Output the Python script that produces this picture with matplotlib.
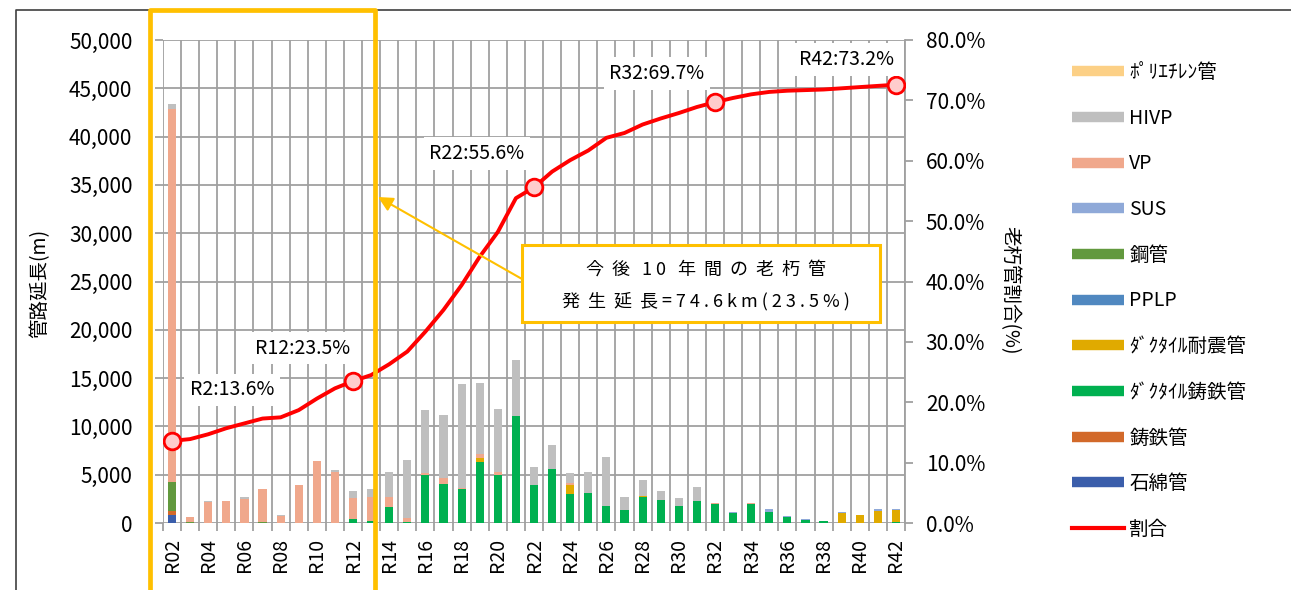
import matplotlib
matplotlib.use("Agg")
import matplotlib.pyplot as plt
import numpy as np
from matplotlib.lines import Line2D
from matplotlib.patches import Rectangle

plt.rcParams['font.family'] = ['Noto Sans CJK JP', 'DejaVu Sans']

# data (R02 .. R42)
years = ["R%02d" % i for i in range(2, 43)]

asbestos = [860] + [0] * 40                      # 石綿管
cast_iron = [415] + [0] * 40                     # 鋳鉄管
ductile = [0, 0, 0, 0, 0, 0, 0, 0, 0, 0,
           380, 170, 1690, 140, 4970, 4000, 3485, 6350, 5000, 11110,
           3970, 5590, 3035, 3070, 1790, 1380, 2690, 2430, 1760, 2245,
           1930, 1000, 1965, 1170, 590, 310, 210, 0, 0, 0, 140]   # ﾀﾞｸﾀｲﾙ鋳鉄管
seismic = [0] * 17 + [415] + [0] * 4 + [900] + [0] * 3 + [100] + [0] * 10 + [1000, 790, 1275, 1210]
pplp = [0] * 41
steel = [3000, 100, 0, 0, 0, 130] + [0] * 35     # 鋼管
sus = [0] * 31 + [140, 0, 240, 100, 100, 40, 100, 0, 140, 70]
vp = [38570, 520, 2170, 2250, 2480, 3420, 690, 3970, 6380, 5280,
      2210, 2520, 970, 345, 170, 690, 140, 380, 280, 0,
      0, 0, 210, 0, 0, 0, 0, 0, 0, 0,
      100, 0, 100, 0, 0, 0, 0, 0, 0, 0, 0]
hivp = [520, 0, 140, 0, 170, 0, 110, 0, 0, 240,
        690, 860, 2590, 6000, 6555, 6450, 10800, 7350, 6520, 5760,
        1860, 2480, 1000, 2210, 5000, 1345, 1655, 880, 860, 1485,
        0, 0, 0, 0, 0, 0, 0, 0, 0, 0, 0]
poly = [0] * 41                                  # ﾎﾟﾘｴﾁﾚﾝ管

ratio = [13.6, 13.9, 14.7, 15.7, 16.5, 17.3, 17.5, 18.7, 20.6, 22.3,
         23.5, 24.5, 26.3, 28.4, 31.7, 35.3, 39.4, 44.1, 48.2, 53.8,
         55.6, 58.2, 60.1, 61.7, 63.8, 64.6, 66.0, 67.0, 67.9, 68.9,
         69.7, 70.4, 71.0, 71.4, 71.6, 71.7, 71.8, 72.0, 72.2, 72.4, 72.6]

mark_idx = [0, 10, 20, 30, 40]
mark_labels = ["R2:13.6%", "R12:23.5%", "R22:55.6%", "R32:69.7%", "R42:73.2%"]

series = [
    ("石綿管", asbestos, "#3B5EAB"),
    ("鋳鉄管", cast_iron, "#D2692A"),
    ("ﾀﾞｸﾀｲﾙ鋳鉄管", ductile, "#00B050"),
    ("ﾀﾞｸﾀｲﾙ耐震管", seismic, "#E0AA00"),
    ("PPLP", pplp, "#5088C0"),
    ("鋼管", steel, "#62993E"),
    ("SUS", sus, "#8FA9D8"),
    ("VP", vp, "#F0A88C"),
    ("HIVP", hivp, "#BFBFBF"),
    ("ﾎﾟﾘｴﾁﾚﾝ管", poly, "#FCD086"),
]

W, H = 1291, 590
fig = plt.figure(figsize=(W / 100, H / 100), dpi=100)
ax = fig.add_axes([163 / W, 1 - 523 / H, (905 - 163) / W, (523 - 40) / H])

x = np.arange(len(years))
bottom = np.zeros(len(years))
for name, vals, col in series:
    ax.bar(x, vals, 0.45, bottom=bottom, color=col, zorder=2)
    bottom += np.array(vals)

grid_c = "#A0A0A0"
ax.set_xlim(-0.5, len(years) - 0.5)
ax.set_ylim(0, 50000)
ax.set_yticks(np.arange(0, 50001, 5000))
ax.set_yticklabels([f"{v:,}" for v in range(0, 50001, 5000)], fontsize=15)
ax.set_xticks(x[::2])
ax.set_xticklabels(years[::2], rotation=90, fontsize=14)
ax.set_xticks(np.arange(-0.5, len(years)), minor=True)
ax.tick_params(axis='x', which='major', length=0, pad=11)
ax.tick_params(axis='x', which='minor', length=6, color=grid_c, width=1.3)
ax.tick_params(axis='y', length=6, color=grid_c, width=1.3, pad=16)
ax.grid(axis='y', which='major', color=grid_c, lw=1.3, zorder=0)
ax.grid(axis='x', which='minor', color=grid_c, lw=1.3, zorder=0)
ax.set_axisbelow(True)
for s in ax.spines.values():
    s.set_visible(False)

ax2 = ax.twinx()
ax2.plot(x, ratio, color="red", lw=2.8, zorder=5)
ax2.plot(x[mark_idx], np.array(ratio)[mark_idx], 'o', ms=12, mfc="#FFCCCC",
         mec="red", mew=2, zorder=6)
ax2.set_ylim(0, 80)
ax2.set_yticks(np.arange(0, 81, 10))
ax2.set_yticklabels([f"{v:.1f}%" for v in range(0, 81, 10)], fontsize=15)
ax2.tick_params(axis='y', length=6, color=grid_c, width=1.3, pad=9)
for s in ax2.spines.values():
    s.set_visible(False)
ax2.spines['right'].set_visible(True)
ax2.spines['right'].set_color(grid_c)
ax2.spines['right'].set_linewidth(1.3)

offsets = [(60, 51), (-50, 33), (-57, 34), (-58, 29), (-49, 25)]
for i, lab, off in zip(mark_idx, mark_labels, offsets):
    ax2.annotate(lab, (x[i], ratio[i]), xytext=off, textcoords='offset pixels',
                 ha='center', va='center', fontsize=14, zorder=7,
                 bbox=dict(boxstyle='square,pad=0.3', fc='white', ec='none'))

fig.text(40 / W, 1 - 283 / H, "管路延長(m)", rotation=90, ha='center', va='center', fontsize=14)
fig.text(1010 / W, 1 - 290 / H, "老朽管割合(%)", rotation=270, ha='center', va='center', fontsize=14)

# outer chart frame
fig.add_artist(Line2D([16 / W, 16 / W, 1.0], [0, 1 - 10 / H, 1 - 10 / H], color="#404040", lw=1.2))

# yellow highlight box (next 10 years)
yel = "#FFC000"
fig.add_artist(Line2D([149.5 / W, 149.5 / W, 375 / W, 375 / W], [-0.01, 1 - 10 / H, 1 - 10 / H, -0.01],
                      color=yel, lw=3.4, zorder=10))
fig.add_artist(Rectangle((522 / W, 1 - 322 / H), (880 - 522) / W, (322 - 245) / H,
                         transform=fig.transFigure, fc="white", ec=yel, lw=2.2, zorder=10))
fig.text(706 / W, 1 - 270 / H, "今  後   1 0   年  間  の  老  朽  管", ha='center', va='center',
         fontsize=13, zorder=11)
fig.text(706 / W, 1 - 301 / H, "発  生  延  長 = 7 4 . 6 k m ( 2 3 . 5 % )", ha='center', va='center',
         fontsize=13, zorder=11)
ax2.annotate("", xy=(378 / W, 1 - 197 / H), xytext=(522 / W, 1 - 279 / H),
             xycoords='figure fraction', textcoords='figure fraction',
             arrowprops=dict(arrowstyle='-|>', color=yel, lw=1.5, mutation_scale=22,
                             shrinkA=0, shrinkB=0), zorder=10)

# legend (top entry = last stacked series)
handles = [Line2D([0], [0], color=c, lw=7.5, solid_capstyle='butt') for _, _, c in series[::-1]]
labels = [n for n, _, _ in series[::-1]]
handles.append(Line2D([0], [0], color="red", lw=3))
labels.append("割合")
fig.legend(handles, labels, loc='upper left', bbox_to_anchor=(1072 / W, 1 - 62 / H),
           frameon=False, fontsize=14, handlelength=2.65, handletextpad=0.3,
           labelspacing=1.27, borderpad=0, borderaxespad=0)

fig.savefig("out.png", dpi=100)
